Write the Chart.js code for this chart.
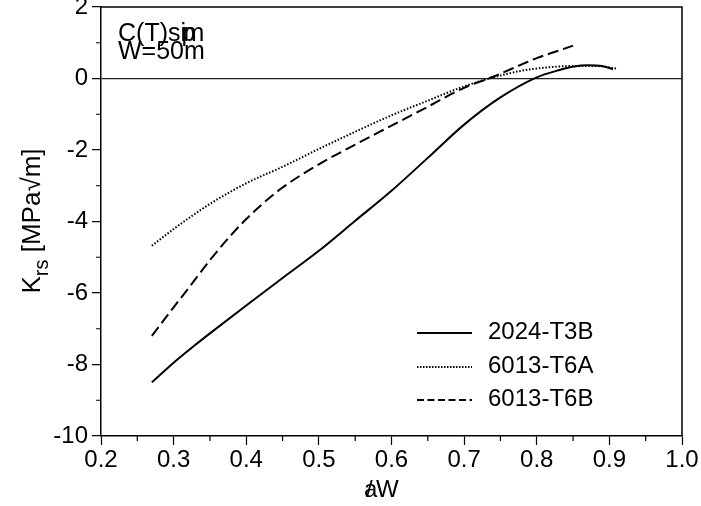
<!DOCTYPE html>
<html>
<head>
<meta charset="utf-8">
<script src="https://cdn.jsdelivr.net/npm/chart.js@4/dist/chart.umd.min.js"></script>
<style>
html,body{margin:0;padding:0;background:#fff;}
#wrap{width:701px;height:506px;position:relative;}
</style>
</head>
<body>
<div id="wrap"><canvas id="c" width="701" height="506"></canvas></div>
<script>
// ---- data ----
const seriesNames = ["2024-T3B", "6013-T6A", "6013-T6B"];
const solidX  = [0.27,0.30,0.33,0.35,0.40,0.45,0.50,0.55,0.60,0.65,0.70,0.75,0.80,0.83,0.85,0.87,0.89,0.905];
const solidY  = [-8.50,-7.95,-7.45,-7.13,-6.35,-5.58,-4.82,-3.98,-3.14,-2.22,-1.29,-0.53,0.03,0.23,0.33,0.37,0.35,0.26];
const dottedX = [0.27,0.30,0.35,0.40,0.45,0.50,0.55,0.60,0.65,0.70,0.74,0.78,0.82,0.85,0.88,0.91];
const dottedY = [-4.68,-4.21,-3.51,-2.93,-2.47,-1.97,-1.49,-1.03,-0.62,-0.22,0.03,0.22,0.32,0.35,0.35,0.28];
const dashedX = [0.27,0.30,0.32,0.35,0.38,0.40,0.42,0.45,0.50,0.55,0.60,0.65,0.70,0.74,0.78,0.80,0.83,0.85];
const dashedY = [-7.20,-6.40,-5.88,-5.08,-4.36,-3.93,-3.55,-3.05,-2.40,-1.85,-1.32,-0.79,-0.26,0.05,0.40,0.57,0.78,0.92];
const xMinorTicks = [0.25,0.35,0.45,0.55,0.65,0.75,0.85,0.95];
const yMinorTicks = [-9,-7,-5,-3,-1,1];

const FONT = "'Liberation Sans', Arial, sans-serif";
const pts = (xs, ys) => xs.map((x, i) => ({x, y: ys[i]}));

const dashes = [[], [1.5, 1.8], [11, 5]];
const legendDashes = [[], [1.5, 1.5], [7, 3.5]];

const decor = {
  id: 'decor',
  afterDraw(chart) {
    const {ctx, chartArea: a, scales: {x, y}} = chart;
    ctx.save();
    ctx.strokeStyle = '#000';
    ctx.lineWidth = 1.5;
    // top + right frame
    ctx.beginPath();
    ctx.moveTo(a.left, a.top); ctx.lineTo(a.right, a.top); ctx.lineTo(a.right, a.bottom);
    ctx.stroke();
    // minor ticks
    ctx.lineWidth = 1.2;
    ctx.beginPath();
    xMinorTicks.forEach(v => { const p = x.getPixelForValue(v); ctx.moveTo(p, a.bottom); ctx.lineTo(p, a.bottom + 5); });
    yMinorTicks.forEach(v => { const p = y.getPixelForValue(v); ctx.moveTo(a.left - 5, p); ctx.lineTo(a.left, p); });
    ctx.stroke();

    // annotation text
    ctx.fillStyle = '#000';
    ctx.font = '25px ' + FONT;
    ctx.textBaseline = 'alphabetic';
    ctx.textAlign = 'left';
    let t = 'C(T)s';
    ctx.fillText(t, 118, 41);
    let w = ctx.measureText(t).width;
    ctx.fillText('i', 118 + w, 41);
    ctx.fillText('p', 118 + w + 1, 41);
    ctx.fillText('m', 118 + w + 3, 41);
    ctx.fillText('W=50m', 118, 59);

    // legend
    const rows = [333, 367, 400];
    ctx.font = '24px ' + FONT;
    ctx.textBaseline = 'alphabetic';
    rows.forEach((ry, i) => {
      ctx.save();
      ctx.setLineDash(legendDashes[i]);
      ctx.lineWidth = 2;
      ctx.beginPath(); ctx.moveTo(417, ry); ctx.lineTo(472, ry); ctx.stroke();
      ctx.restore();
      ctx.fillText(seriesNames[i], 488, ry + 6);
    });

    // x axis title
    ctx.font = '24px ' + FONT;
    ctx.fillText('a', 364, 497);
    ctx.fillText('/', 366, 497);
    ctx.fillText('W', 376, 497);

    // y axis title
    ctx.save();
    ctx.translate(40, 221);
    ctx.rotate(-Math.PI / 2);
    ctx.textAlign = 'left';
    const f1 = '26px ' + FONT, f2 = '20px ' + FONT;
    ctx.font = f1; const wK = ctx.measureText('K').width;
    ctx.font = f2; const wS = ctx.measureText('rs').width;
    ctx.font = f1; const wR = ctx.measureText(' [MPa√m]').width;
    let sx = -(wK + wS + wR) / 2;
    ctx.font = f1; ctx.fillText('K', sx, 0); sx += wK;
    ctx.font = f2; ctx.fillText('rs', sx, 8); sx += wS;
    ctx.font = f1; ctx.fillText(' [MPa√m]', sx, 0);
    ctx.restore();
    ctx.restore();
  }
};

new Chart(document.getElementById('c'), {
  type: 'line',
  data: {
    datasets: [
      {label: seriesNames[0], data: pts(solidX, solidY)},
      {label: seriesNames[1], data: pts(dottedX, dottedY)},
      {label: seriesNames[2], data: pts(dashedX, dashedY)}
    ].map((d, i) => Object.assign(d, {
      borderColor: '#000', borderWidth: 2, borderDash: dashes[i],
      pointRadius: 0, fill: false, tension: 0.4, cubicInterpolationMode: 'monotone'
    }))
  },
  options: {
    responsive: false,
    animation: false,
    devicePixelRatio: 1,
    layout: {padding: {top: 7, right: 19, left: 0, bottom: 0}},
    plugins: {legend: {display: false}, tooltip: {enabled: false}},
    scales: {
      x: {
        type: 'linear', min: 0.2, max: 1.0,
        border: {color: '#000', width: 1.5},
        grid: {drawOnChartArea: false, tickLength: 9, tickColor: '#000', tickWidth: 1.2},
        ticks: {stepSize: 0.1, color: '#000', font: {family: FONT, size: 24}, padding: 1,
                maxRotation: 0, autoSkip: false, callback: v => v.toFixed(1)},
        afterFit(s) { s.height = 70; s.paddingLeft = 0; s.paddingRight = 0; }
      },
      y: {
        type: 'linear', min: -10, max: 2,
        border: {color: '#000', width: 1.5},
        grid: {
          tickLength: 9, tickColor: '#000', tickWidth: 1.2,
          color: c => (c.tick && c.tick.value === 0) ? '#222' : 'rgba(0,0,0,0)',
          lineWidth: 1.3
        },
        ticks: {stepSize: 2, color: '#000', font: {family: FONT, size: 24}, padding: 4,
                callback: v => String(v)},
        afterFit(s) { s.width = 101; s.paddingTop = 0; s.paddingBottom = 0; }
      }
    }
  },
  plugins: [decor]
});
</script>
</body>
</html>
